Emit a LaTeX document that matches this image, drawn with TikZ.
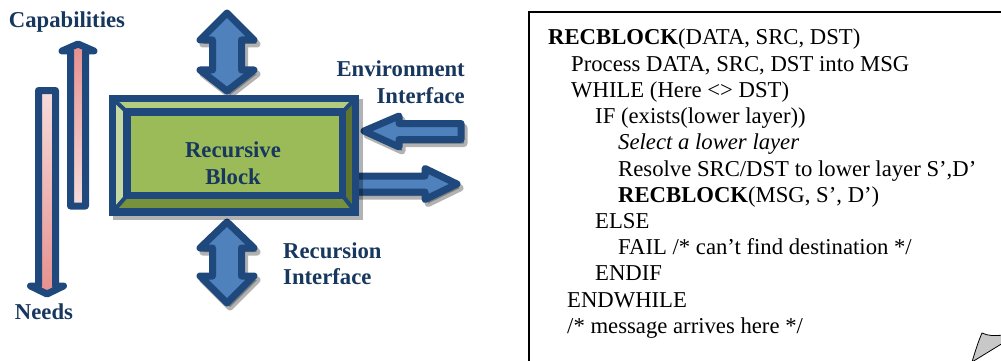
\documentclass[tikz,border=0pt]{standalone}
\usepackage{fontspec}
\setmainfont{Liberation Serif}
\definecolor{navy}{RGB}{23,55,94}
\definecolor{abord}{RGB}{31,73,125}
\definecolor{afill}{RGB}{79,129,189}
\definecolor{pinkA}{RGB}{230,144,142}
\definecolor{pinkB}{RGB}{245,220,219}
\definecolor{gmid}{RGB}{155,187,89}
\definecolor{gtop}{RGB}{178,204,128}
\definecolor{gleft}{RGB}{198,217,160}
\definecolor{gright}{RGB}{95,117,48}
\definecolor{gbot}{RGB}{118,146,60}
\definecolor{foldgray}{RGB}{200,200,200}
\newcommand\vdouble[1]{\path[#1] (0,0) -- (27,27) -- (14.5,27) -- (14.5,57) -- (27,57) -- (0,78) -- (-27,57) -- (-14.5,57) -- (-14.5,27) -- (-27,27) -- cycle;}
\newcommand\vdoubleB[1]{\path[#1] (0,0) -- (27,26) -- (14.5,26) -- (14.5,54) -- (27,54) -- (0,81) -- (-27,54) -- (-14.5,54) -- (-14.5,26) -- (-27,26) -- cycle;}
\newcommand\leftarr[1]{\path[#1] (0,0) -- (35,-15) -- (35,-7.5) -- (97,-7.5) -- (97,8.5) -- (35,8.5) -- (35,16) -- cycle;}
\newcommand\rightarr[1]{\path[#1] (0,-8) -- (70,-8) -- (70,-15.5) -- (102,0) -- (70,15.5) -- (70,8) -- (0,8) -- cycle;}
\begin{document}
\begin{tikzpicture}[x=1pt,y=-1pt,
  lab/.style={font=\bfseries\fontsize{22.7}{27}\selectfont, text=navy, inner sep=0pt},
  code/.style={font=\fontsize{22.7}{26}\selectfont, anchor=base west, inner sep=0pt},
  arrst/.style={draw=abord, fill=afill, line width=7pt, line join=round},
  shadst/.style={draw=black, fill=black, line width=7pt, line join=round, opacity=0.3},
  pinkarr/.style={draw=abord, line width=7pt, line join=round}]
\useasboundingbox (0,0) rectangle (1001,361);

% ---- Capabilities / Needs arrows
\path[pinkarr, top color=pinkA, bottom color=pinkB]
  (78,44) -- (94,51) -- (85.5,51) -- (85.5,206) -- (70.5,206) -- (70.5,51) -- (62,51) -- cycle;
\path[pinkarr, top color=pinkB, bottom color=pinkA]
  (38.5,90.5) -- (55.5,90.5) -- (55.5,286) -- (63.5,286) -- (47,294) -- (30.5,286) -- (38.5,286) -- cycle;
\node[lab] (cap) at (67,22) {Capabilities};
\node[lab] (needs) at (44,312) {Needs};

% ---- interface arrows (shadows)
\vdouble{shadst, shift={(230,17)}}
\vdoubleB{shadst, shift={(230,226)}}
\leftarr{shadst, shift={(367,135)}}
\rightarr{shadst, shift={(358,188)}}
% ---- interface arrows
\vdouble{arrst, shift={(227,13)}}
\vdoubleB{arrst, shift={(227,222)}}
\leftarr{arrst, shift={(364,131)}}
\rightarr{arrst, shift={(355,184)}}

% ---- recursive block
\fill[black, opacity=0.3] (113,99) rectangle (363,220);
\fill[gmid] (109,95) rectangle (359,215);
\fill[gtop] (112.5,98.5) -- (355.5,98.5) -- (342.5,112) -- (127,112) -- cycle;
\fill[gleft] (112.5,98.5) -- (127,112) -- (127,195.5) -- (112.5,212) -- cycle;
\fill[gright] (355.5,98.5) -- (355.5,212) -- (342.5,195.5) -- (342.5,112) -- cycle;
\fill[gbot] (112.5,212) -- (127,195.5) -- (342.5,195.5) -- (355.5,212) -- cycle;
\draw[abord, line width=4pt] (112.5,98.5) -- (127,112) (355.5,98.5) -- (342.5,112)
  (112.5,212) -- (127,195.5) (355.5,212) -- (342.5,195.5);
\draw[abord, line width=7.5pt] (127,112) rectangle (342.5,195.5);
\draw[abord, line width=7.5pt] (112.5,98.5) rectangle (355.5,212);
\node[lab, align=center] (blk) at (233,163) {Recursive\\Block};

% ---- labels
\node[lab, anchor=base east] (env) at (465,77) {Environment};
\node[lab, anchor=base east] (env2) at (465,103) {Interface};
\node[lab, anchor=base west] (rec) at (283,258) {Recursion};
\node[lab, anchor=base west] (rec2) at (283,284) {Interface};

% ---- note box
\draw[line width=1.6pt] (529,370) -- (529,12) -- (1010,12);
\node[code] (l1) at (548,45) {\textbf{RECBLOCK}(DATA, SRC, DST)};
\node[code] (l2) at (571,71.2) {Process DATA, SRC, DST into MSG};
\node[code] (l3) at (571,97.4) {WHILE (Here <> DST)};
\node[code] (l4) at (595,123.6) {IF (exists(lower layer))};
\node[code] (l5) at (618,149.8) {\textit{Select a lower layer}};
\node[code] (l6) at (618,176) {Resolve SRC/DST to lower layer S’,D’};
\node[code] (l7) at (618,202.2) {\textbf{RECBLOCK}(MSG, S’, D’)};
\node[code] (l8) at (595,228.4) {ELSE};
\node[code] (l9) at (618,254.6) {FAIL /* can’t find destination */};
\node[code] (l10) at (595,280.8) {ENDIF};
\node[code] (l11) at (567,307) {ENDWHILE};
\node[code] (l12) at (567,333.2) {/* message arrives here */};
\draw[fill=foldgray, line width=0.8pt] (982,333) .. controls (988,336) and (995,336) .. (1003,335)
  -- (1003,343) -- (972,362) .. controls (975,352) and (978,342) .. (982,333) -- cycle;
\end{tikzpicture}
\end{document}
